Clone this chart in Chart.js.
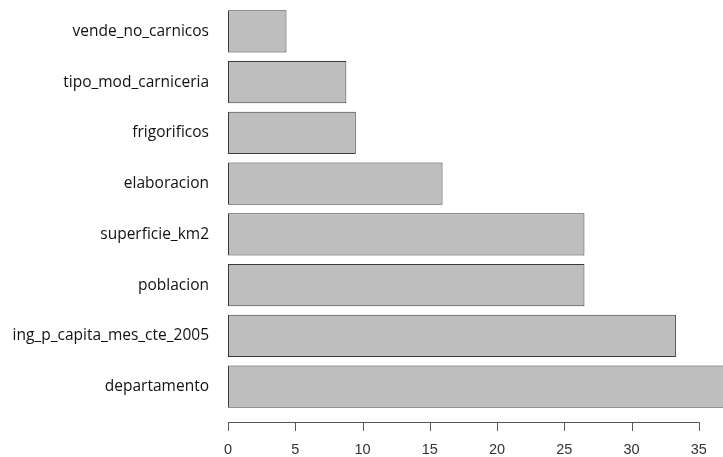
<!DOCTYPE html>
<html>
<head>
<meta charset="utf-8">
<script src="https://cdn.jsdelivr.net/npm/chart.js@4/dist/chart.umd.min.js"></script>
<style>
  html, body { margin: 0; padding: 0; background: #fff; }
  #wrap { width: 723px; height: 457px; }
</style>
</head>
<body>
<div id="wrap"><canvas id="imp"></canvas></div>
<script>
// variables, top to bottom
var variables = [
  "vende_no_carnicos",
  "tipo_mod_carniceria",
  "frigorificos",
  "elaboracion",
  "superficie_km2",
  "poblacion",
  "ing_p_capita_mes_cte_2005",
  "departamento"
];
var importance = [4.35, 8.8, 9.5, 15.95, 26.5, 26.5, 33.3, 37.6];
var xTicks = [0, 5, 10, 15, 20, 25, 30, 35];

// R-style detached axis: line spans first..last tick, drawn a bit below the bars
var baseAxis = {
  id: "baseAxis",
  afterDraw: function (chart) {
    var x = chart.scales.x, ctx = chart.ctx;
    var y0 = chart.chartArea.bottom + 10;
    ctx.save();
    ctx.strokeStyle = "#555";
    ctx.lineWidth = 1;
    ctx.beginPath();
    ctx.moveTo(x.getPixelForValue(xTicks[0]), y0 + 0.5);
    ctx.lineTo(x.getPixelForValue(xTicks[xTicks.length - 1]), y0 + 0.5);
    xTicks.forEach(function (v) {
      var px = Math.round(x.getPixelForValue(v)) + 0.5;
      ctx.moveTo(px, y0);
      ctx.lineTo(px, y0 + 9);
    });
    ctx.stroke();
    ctx.restore();
  }
};

new Chart(document.getElementById("imp").getContext("2d"), {
  type: "bar",
  data: {
    labels: variables,
    datasets: [{
      data: importance,
      backgroundColor: "#bebebe",
      borderColor: "#3a3a3a",
      borderWidth: 1,
      borderSkipped: false,
      categoryPercentage: 1,
      barPercentage: 1 / 1.2
    }]
  },
  options: {
    indexAxis: "y",
    responsive: true,
    maintainAspectRatio: false,
    animation: false,
    layout: { padding: { top: 6, left: 0, right: 0, bottom: 0 } },
    plugins: { legend: { display: false }, tooltip: { enabled: false } },
    scales: {
      x: {
        type: "linear",
        min: 0,
        max: 36.8,
        grid: { display: false },
        border: { display: false },
        afterFit: function (s) {
          s.height = 45;
          s.paddingLeft = 0;
          s.paddingRight = 0;
        },
        ticks: {
          stepSize: 5,
          includeBounds: false,
          maxRotation: 0,
          padding: 21,
          color: "#333",
          font: { family: "Liberation Sans", size: 14.5 }
        }
      },
      y: {
        grid: { display: false },
        border: { display: false },
        afterFit: function (s) {
          s.width = 228;
          s.paddingTop = 0;
          s.paddingBottom = 0;
        },
        ticks: {
          padding: 11,
          color: "#111",
          font: { family: "Open Sans", size: 15.5 }
        }
      }
    }
  },
  plugins: [baseAxis]
});
</script>
</body>
</html>
